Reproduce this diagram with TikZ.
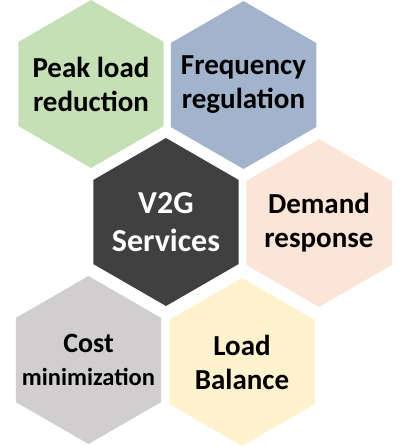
\documentclass[tikz,border=0pt]{standalone}
\usepackage{fontspec}
\setmainfont{Carlito}
\usetikzlibrary{shapes.geometric}

\definecolor{peakgreen}{HTML}{C5E0B4}
\definecolor{freqblue}{HTML}{A2B4CB}
\definecolor{servgray}{HTML}{404040}
\definecolor{demandpeach}{HTML}{FBE5D6}
\definecolor{costgray}{HTML}{D0CECE}
\definecolor{balanceyellow}{HTML}{FFF2CC}

\begin{document}
\begin{tikzpicture}[
      x=1pt, y=-1pt,
      hexcell/.style={regular polygon, regular polygon sides=6, shape border rotate=30,
        minimum size=168pt, inner sep=0pt, outer sep=0pt, draw=none, fill=#1},
      hexlabel/.style={align=center, inner sep=0pt,
        font=\fontsize{29}{34}\selectfont\bfseries}
    ]
    \useasboundingbox (0,0) rectangle (405,447);

    % Waben
    \node[hexcell=peakgreen] (peak) at (91,84) {};
    \node[hexcell=freqblue] (freq) at (243.5,85) {};
    \node[hexcell=servgray] (v2g) at (166,222) {};
    \node[hexcell=demandpeach] (demand) at (319,223) {};
    \node[hexcell=costgray] (cost) at (88.5,360) {};
    \node[hexcell=balanceyellow] (balance) at (242,362) {};

    % Beschriftungen
    \node[hexlabel] (peaktext) at (peak) {Peak load\\reduction};
    \node[hexlabel] (freqtext) at (freq) {Frequency\\regulation};
    \node[hexlabel, text=white, font=\fontsize{32}{38}\selectfont\bfseries] (v2gtext) at (v2g) {V2G\\Services};
    \node[hexlabel] (demandtext) at (demand) {Demand\\response};
    \node[hexlabel, font=\fontsize{28}{33}\selectfont\bfseries] (costtext) at (cost) {Cost\\{\fontsize{24.5}{33}\selectfont minimization}};
    \node[hexlabel] (balancetext) at (balance) {Load\\Balance};

  \end{tikzpicture}
\end{document}
